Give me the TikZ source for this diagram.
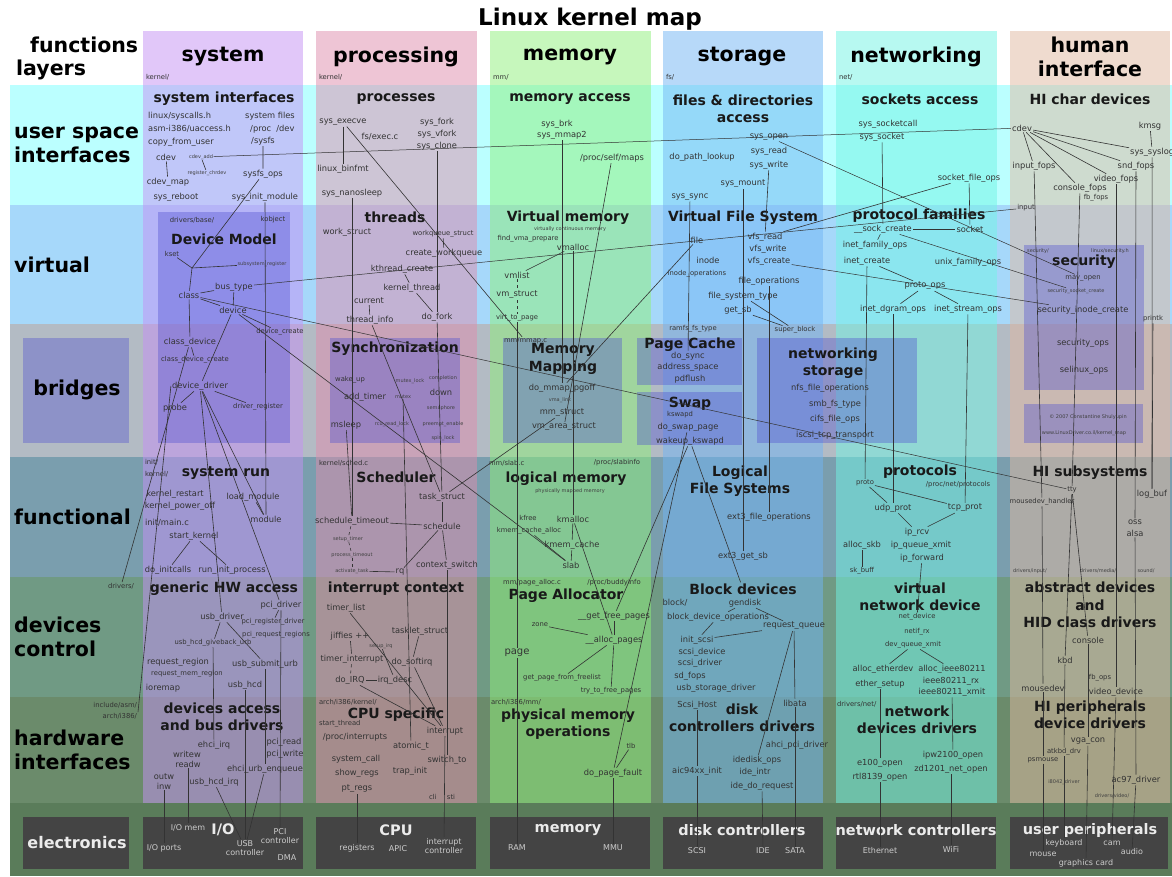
\documentclass[tikz,border=0pt]{standalone}
\usepackage{fontspec}
\setmainfont{DejaVu Sans}
\definecolor{rowUS}{HTML}{BBFFFF}
\definecolor{rowVI}{HTML}{A6D8FA}
\definecolor{rowBR}{HTML}{B3BBC4}
\definecolor{rowFU}{HTML}{7A9EAE}
\definecolor{rowDC}{HTML}{709A84}
\definecolor{rowHW}{HTML}{6B8B6B}
\definecolor{rowEL}{HTML}{5A7C5A}
\definecolor{colSY}{HTML}{C591F5}
\definecolor{colPR}{HTML}{DF8DAD}
\definecolor{colME}{HTML}{8FF07A}
\definecolor{colST}{HTML}{71B5F5}
\definecolor{colNE}{HTML}{71F5E5}
\definecolor{colHU}{HTML}{E1B9A1}
\definecolor{boxc}{HTML}{5050D0}
\definecolor{elbox}{HTML}{444444}
\begin{document}
\begin{tikzpicture}[x=1pt,y=-1pt,
 ttl/.style={font=\bfseries\fontsize{23}{26}\selectfont},
 hd/.style={font=\bfseries\fontsize{20.5}{24}\selectfont, align=center, inner sep=1pt},
 hdl/.style={hd, align=left, anchor=west},
 sec/.style={font=\bfseries\fontsize{14}{17.5}\selectfont, align=center, inner sep=1pt, text=black!90},
 fnc/.style={font=\fontsize{8.3}{9}\selectfont, inner sep=1pt, text=black!80},
 sm/.style={font=\fontsize{6.8}{7.5}\selectfont, inner sep=0.8pt, text=black!80},
 tn/.style={font=\fontsize{5}{6}\selectfont, inner sep=0.5pt, text=black!75},
 elh/.style={font=\bfseries\fontsize{14.5}{16}\selectfont, text=white!92!black, inner sep=1pt},
 elt/.style={font=\fontsize{8}{9}\selectfont, text=white!80!black, align=center, inner sep=1pt},
 ln/.style={draw=black!80, line width=0.6pt},
 dl/.style={ln, dashed},
 subbox/.style={fill=boxc, fill opacity=0.38},
 ebox/.style={fill=elbox},
 colov/.style={fill opacity=0.5}]
\useasboundingbox (0,0) rectangle (1172,876);
\fill[white] (0,0) rectangle (1172,876);
% ---------- rows
\fill[rowUS] (10,85) rectangle (1172,205);
\fill[rowVI] (10,205) rectangle (1172,324);
\fill[rowBR] (10,324) rectangle (1172,457);
\fill[rowFU] (10,457) rectangle (1172,577);
\fill[rowDC] (10,577) rectangle (1172,697);
\fill[rowHW] (10,697) rectangle (1172,803);
\fill[rowEL] (10,803) rectangle (1172,876);
% ---------- columns
\fill[colSY,colov] (143,31) rectangle (303,803);
\fill[colPR,colov] (316,31) rectangle (477,803);
\fill[colME,colov] (490,31) rectangle (651,803);
\fill[colST,colov] (663,31) rectangle (823,803);
\fill[colNE,colov] (836,31) rectangle (997,803);
\fill[colHU,colov] (1010,31) rectangle (1170,803);
% ---------- sub boxes
\fill[subbox] (158,212) rectangle (290,443);
\fill[subbox] (23,338) rectangle (129,443);
\fill[subbox] (330,338) rectangle (460,443);
\fill[subbox] (503,338) rectangle (622,443);
\fill[subbox] (637,338) rectangle (742,385);
\fill[subbox] (637,392) rectangle (742,445);
\fill[subbox] (757,338) rectangle (917,443);
\fill[subbox] (1024,245) rectangle (1144,390);
\fill[subbox] (1024,404) rectangle (1143,443);
% ---------- electronics boxes
\fill[ebox] (23,817) rectangle (129,869);
\fill[ebox] (143,817) rectangle (303,869);
\fill[ebox] (316,817) rectangle (476,869);
\fill[ebox] (490,817) rectangle (650,869);
\fill[ebox] (663,817) rectangle (823,869);
\fill[ebox] (836,817) rectangle (996,869);
\fill[ebox] (1010,817) rectangle (1168,869);

% ---------- titles and labels
\node[ttl] (title) at (590,19) {Linux kernel map};
\node[hd,anchor=west] (lfun) at (29,45) {functions};
\node[hd,anchor=west] (llay) at (15,70) {layers};
\node[hdl] (lusi) at (13,145) {user space\\interfaces};
\node[hdl] (lvir) at (13,265) {virtual};
\node[hd] (lbri) at (77,390) {bridges};
\node[hdl] (lfnc) at (13,517) {functional};
\node[hdl] (ldev) at (13,637) {devices\\control};
\node[hdl] (lhw) at (13,750) {hardware\\interfaces};
\node[elh,font=\bfseries\fontsize{16}{18}\selectfont] (lel) at (77,843) {electronics};

\node[hd] (hsys) at (223,57) {system};
\node[hd] (hpro) at (396,57) {processing};
\node[hd] (hmem) at (570,57) {memory};
\node[hd] (hsto) at (742,57) {storage};
\node[hd] (hnet) at (916,57) {networking};
\node[hd] (hhum) at (1090,57) {human\\interface};
\node[sm,anchor=west] (dsys) at (145,77) {kernel/};
\node[sm,anchor=west] (dpro) at (318,77) {kernel/};
\node[sm,anchor=west] (dmem) at (492,77) {mm/};
\node[sm,anchor=west] (dsto) at (665,77) {fs/};
\node[sm,anchor=west] (dnet) at (838,77) {net/};

% ================= SYSTEM
\node[sec] (ssi) at (224,99) {system interfaces};
\node[fnc,anchor=west] (sysh) at (147,116) {linux/syscalls.h};
\node[fnc,anchor=west] (sysfiles) at (244,116) {system files};
\node[fnc,anchor=west] (uacc) at (147,129) {asm-i386/uaccess.h};
\node[fnc,anchor=west] (procdev) at (249,129) {/proc~~/dev};
\node[fnc,anchor=west] (cfu) at (147,142) {copy\_from\_user};
\node[fnc,anchor=west] (sysfs) at (250,141) {/sysfs};
\node[fnc] (cdevA) at (166,157) {cdev};
\node[tn] (cdevadd) at (201,157) {cdev\_add};
\node[tn] (regchr) at (207,173) {register\_chrdev};
\node[fnc] (sysfsops) at (263,174) {sysfs\_ops};
\node[fnc] (cdevmap) at (168,182) {cdev\_map};
\node[fnc] (sysreboot) at (176,197) {sys\_reboot};
\node[fnc] (sysinitmod) at (265,197) {sys\_init\_module};
\node[sm] (drvbase) at (192,220) {drivers/base/};
\node[sm] (kobject) at (273,220) {kobject};
\node[sec] (devmodel) at (224,239) {Device Model};
\node[sm] (kset) at (172,254) {kset};
\coordinate (ksetj) at (192,268);
\node[tn] (subreg) at (262,264) {subsystem\_register};
\node[fnc] (bustype) at (234,287) {bus\_type};
\node[fnc] (class) at (189,295) {class};
\node[fnc] (device) at (233,310) {device};
\node[sm] (devcreate) at (280,332) {device\_create};
\node[fnc] (classdev) at (190,342) {class\_device};
\node[sm] (cdcreate) at (195,360) {class\_device\_create};
\node[fnc] (devdriver) at (200,386) {device\_driver};
\node[fnc] (probe) at (175,408) {probe};
\node[sm] (drvreg) at (258,407) {driver\_register};

\node[sm,anchor=west] (sinit) at (144,462) {init/};
\node[sm,anchor=west] (skern) at (144,474) {kernel/};
\node[sec] (sysrun) at (226,473) {system run};
\node[fnc] (krestart) at (175,494) {kernel\_restart};
\node[fnc] (kpoweroff) at (180,506) {kernel\_power\_off};
\node[fnc] (loadmod) at (253,497) {load\_module};
\node[fnc] (module) at (266,519) {module};
\node[fnc] (initmain) at (167,523) {init/main.c};
\node[fnc] (startk) at (194,536) {start\_kernel};
\node[fnc] (doinit) at (168,570) {do\_initcalls};
\node[fnc] (runinit) at (232,570) {run\_init\_process};
\node[sm] (ldrivers) at (121,586) {drivers/};
\node[sec] (genhw) at (224,589) {generic HW access};
\node[fnc] (pcidrv) at (281,605) {pci\_driver};
\node[fnc] (usbdrv) at (222,617) {usb\_driver};
\node[sm] (pcireg) at (273,622) {pci\_register\_driver};
\node[sm] (pcireq) at (276,635) {pci\_request\_regions};
\node[sm] (giveback) at (213,643) {usb\_hcd\_giveback\_urb};
\node[fnc] (reqreg) at (178,662) {request\_region};
\node[sm] (reqmem) at (187,674) {request\_mem\_region};
\node[fnc] (submiturb) at (265,664) {usb\_submit\_urb};
\node[fnc] (usbhcd) at (245,685) {usb\_hcd};
\node[fnc] (ioremap) at (163,688) {ioremap};
\node[sm,anchor=east] (linc) at (138,705) {include/asm/};
\node[sm,anchor=east] (larch) at (138,716) {arch/i386/};
\node[sec] (devacc) at (222,717) {devices access\\and bus drivers};
\node[fnc] (ehciirq) at (214,745) {ehci\_irq};
\node[fnc] (pciread) at (284,742) {pci\_read};
\node[fnc] (pciwrite) at (285,754) {pci\_write};
\node[fnc] (writew) at (187,754) {writew};
\node[fnc] (readw) at (188,764) {readw};
\node[fnc] (enqueue) at (265,769) {ehci\_urb\_enqueue};
\node[fnc] (outw) at (164,777) {outw};
\node[fnc] (inw) at (164,786) {inw};
\node[fnc] (hcdirq) at (214,782) {usb\_hcd\_irq};
\node[elt] (iomem) at (188,828) {I/O mem};
\node[elh] (eio) at (223,830) {I/O};
\node[elt] (pcictl) at (280,836) {PCI\\controller};
\node[elt] (ioports) at (164,848) {I/O ports};
\node[elt] (usbctl) at (245,848) {USB\\controller};
\node[elt] (dma) at (287,858) {DMA};

% ================= PROCESSING
\node[sec] (sproc) at (396,99) {processes};
\node[fnc] (execve) at (343,122) {sys\_execve};
\node[fnc] (fsexec) at (380,137) {fs/exec.c};
\node[fnc] (sysfork) at (437,122) {sys\_fork};
\node[fnc] (sysvfork) at (437,134) {sys\_vfork};
\node[fnc] (sysclone) at (437,146) {sys\_clone};
\node[fnc] (binfmt) at (343,169) {linux\_binfmt};
\node[fnc] (nanosleep) at (352,193) {sys\_nanosleep};
\node[sec] (threads) at (395,217) {threads};
\node[fnc] (workstruct) at (347,232) {work\_struct};
\node[sm] (wqstruct) at (443,234) {workqueue\_struct};
\node[fnc] (createwq) at (444,253) {create\_workqueue};
\node[fnc] (kthread) at (402,269) {kthread\_create};
\node[fnc] (kthreadk) at (412,288) {kernel\_thread};
\node[fnc] (current) at (369,301) {current};
\node[fnc] (threadinfo) at (370,320) {thread\_info};
\node[fnc] (dofork) at (437,317) {do\_fork};
\node[sec] (sync) at (395,349) {Synchronization};
\node[sm] (wakeup0) at (350,380) {wake\_up};
\node[tn] (mutexlock) at (410,381) {mutex\_lock};
\node[tn] (completion) at (443,378) {completion};
\node[fnc] (addtimer) at (365,397) {add\_timer};
\node[tn] (mutex) at (403,397) {mutex};
\node[fnc] (down) at (441,392) {down};
\node[tn] (semaphore) at (441,408) {semaphore};
\node[fnc] (msleep) at (346,425) {msleep};
\node[tn] (rcu) at (392,424) {rcu\_read\_lock};
\node[tn] (preempt) at (443,424) {preempt\_enable};
\node[tn] (spinlock) at (443,438) {spin\_lock};

\node[sm,anchor=west] (schedc) at (318,463) {kernel/sched.c};
\node[sec] (sched) at (396,477) {Scheduler};
\node[fnc] (taskstruct) at (442,497) {task\_struct};
\node[fnc] (schedto) at (352,521) {schedule\_timeout};
\node[fnc] (schedule) at (442,526) {schedule};
\node[tn] (setuptimer) at (348,539) {setup\_timer};
\node[tn] (proctimeout) at (352,555) {process\_timeout};
\node[tn] (acttask) at (352,571) {activate\_task};
\node[fnc] (rq) at (400,572) {rq};
\node[fnc] (ctxsw) at (447,565) {context\_switch};
\node[sec] (intctx) at (396,589) {interrupt context};
\node[fnc] (timerlist) at (346,608) {timer\_list};
\node[fnc] (tasklet) at (420,631) {tasklet\_struct};
\node[fnc] (jiffies) at (350,636) {jiffies ++};
\node[tn] (setupirq) at (381,646) {setup\_irq};
\node[fnc] (timerint) at (352,659) {timer\_interrupt};
\node[fnc] (softirq) at (412,662) {do\_softirq};
\node[fnc] (doirq) at (350,680) {do\_IRQ};
\node[fnc] (irqdesc) at (395,680) {irq\_desc};
\node[sm,anchor=west] (archk) at (318,702) {arch/i386/kernel/};
\node[sec] (cpuspec) at (396,715) {CPU specific};
\node[sm,anchor=west] (startthr) at (318,724) {start\_thread};
\node[fnc] (interrupt) at (445,731) {interrupt};
\node[fnc] (procint) at (355,737) {/proc/interrupts};
\node[fnc] (atomict) at (411,746) {atomic\_t};
\node[fnc] (syscall) at (356,759) {system\_call};
\node[fnc] (switchto) at (447,760) {switch\_to};
\node[fnc] (showregs) at (357,773) {show\_regs};
\node[fnc] (trapinit) at (410,771) {trap\_init};
\node[fnc] (ptregs) at (357,789) {pt\_regs};
\node[sm] (cli) at (433,797) {cli};
\node[sm] (sti) at (451,797) {sti};
\node[elh] (ecpu) at (396,830) {CPU};
\node[elt] (registers) at (357,848) {registers};
\node[elt] (apic) at (398,849) {APIC};
\node[elt] (intctl) at (444,846) {interrupt\\controller};

% ================= MEMORY
\node[sec] (smemacc) at (570,99) {memory access};
\node[fnc] (sysbrk) at (557,124) {sys\_brk};
\node[fnc] (sysmmap) at (562,135) {sys\_mmap2};
\node[fnc] (selfmaps) at (612,158) {/proc/self/maps};
\node[sec] (virtmem) at (568,218) {Virtual memory};
\node[tn] (vcm) at (570,229) {virtually continuous memory};
\node[sm] (findvma) at (528,239) {find\_vma\_prepare};
\node[fnc] (vmalloc) at (573,247) {vmalloc};
\node[fnc] (vmlist) at (517,275) {vmlist};
\node[fnc] (vmstruct) at (517,295) {vm\_struct};
\node[sm] (virttopage) at (517,318) {virt\_to\_page};
\node[sm,anchor=west] (mmapc) at (503,341) {mm/mmap.c};
\node[sec] (memmap) at (563,359) {Memory\\Mapping};
\node[fnc] (mmappgoff) at (562,388) {do\_mmap\_pgoff};
\node[tn] (vmalink) at (560,400) {vma\_link};
\node[fnc] (mmstruct) at (562,413) {mm\_struct};
\node[fnc] (vmarea) at (564,427) {vm\_area\_struct};

\node[sm,anchor=west] (slabc) at (488,463) {mm/slab.c};
\node[sm] (slabinfo) at (617,463) {/proc/slabinfo};
\node[sec] (logmem) at (566,479) {logical memory};
\node[tn] (pmm) at (570,491) {physically mapped memory};
\node[sm] (kfree) at (528,518) {kfree};
\node[fnc] (kmalloc) at (573,519) {kmalloc};
\node[sm] (kmca) at (529,531) {kmem\_cache\_alloc};
\node[fnc] (kmemcache) at (572,545) {kmem\_cache};
\node[fnc] (slab) at (571,565) {slab};
\node[sm] (pagealloc) at (532,583) {mm/page\_alloc.c};
\node[sm] (buddy) at (614,583) {/proc/buddyinfo};
\node[sec] (pgalloc) at (566,596) {Page Allocator};
\node[fnc] (getfree) at (614,616) {\_\_get\_free\_pages};
\node[sm] (zone) at (540,625) {zone};
\node[fnc] (allocpages) at (614,640) {\_\_alloc\_pages};
\node[fnc,font=\fontsize{10}{11}\selectfont] (page) at (517,653) {page};
\node[sm] (freelist) at (562,678) {get\_page\_from\_freelist};
\node[sm] (tryfree) at (611,691) {try\_to\_free\_pages};
\node[sm,anchor=west] (archmm) at (490,702) {arch/i386/mm/};
\node[sec] (physmem) at (568,724) {physical memory\\operations};
\node[sm] (tlb) at (631,746) {tlb};
\node[fnc] (pagefault) at (613,773) {do\_page\_fault};
\node[elh] (emem) at (568,830) {memory};
\node[elt] (ram) at (517,848) {RAM};
\node[elt] (mmu) at (613,848) {MMU};

% ================= STORAGE
\node[sec] (sfiles) at (743,109) {files \& directories\\access};
\node[fnc] (sysopen) at (769,137) {sys\_open};
\node[fnc] (sysread) at (769,151) {sys\_read};
\node[fnc] (pathlookup) at (702,157) {do\_path\_lookup};
\node[fnc] (syswrite) at (769,165) {sys\_write};
\node[fnc] (sysmount) at (743,184) {sys\_mount};
\node[fnc] (syssync) at (690,197) {sys\_sync};
\node[sec] (vfs) at (743,218) {Virtual File System};
\node[fnc] (file) at (697,240) {file};
\node[fnc] (vfsread) at (765,237) {vfs\_read};
\node[fnc] (vfswrite) at (768,249) {vfs\_write};
\node[fnc] (inode) at (708,260) {inode};
\node[fnc] (vfscreate) at (769,261) {vfs\_create};
\node[sm] (inodeops) at (697,274) {inode\_operations};
\node[fnc] (fileops) at (769,281) {file\_operations};
\node[fnc] (fstype) at (743,296) {file\_system\_type};
\node[fnc] (getsb) at (738,310) {get\_sb};
\node[sm] (ramfs) at (693,329) {ramfs\_fs\_type};
\node[sm] (superblock) at (795,330) {super\_block};
\node[sec] (pagecache) at (690,345) {Page Cache};
\node[fnc] (dosync) at (688,356) {do\_sync};
\node[fnc] (addrspace) at (688,367) {address\_space};
\node[fnc] (pdflush) at (690,379) {pdflush};
\node[sec] (swap) at (690,404) {Swap};
\node[sm] (kswapd) at (680,415) {kswapd};
\node[fnc] (doswap) at (688,427) {do\_swap\_page};
\node[fnc] (wakeup) at (690,441) {wakeup\_kswapd};
\node[sec] (netstor) at (833,363) {networking\\storage};
\node[fnc] (nfsops) at (830,388) {nfs\_file\_operations};
\node[fnc] (smbfs) at (835,404) {smb\_fs\_type};
\node[fnc] (cifs) at (835,419) {cifs\_file\_ops};
\node[fnc] (iscsi) at (835,435) {iscsi\_tcp\_transport};

\node[sec] (logfs) at (740,481) {Logical\\File Systems};
\node[fnc] (ext3fo) at (769,517) {ext3\_file\_operations};
\node[fnc] (ext3sb) at (743,556) {ext3\_get\_sb};
\node[sec] (blockdev) at (743,589) {Block devices};
\node[fnc] (blockdir) at (675,603) {block/};
\node[fnc] (gendisk) at (745,603) {gendisk};
\node[fnc] (bdops) at (718,617) {block\_device\_operations};
\node[fnc] (reqq) at (794,626) {request\_queue};
\node[fnc] (initscsi) at (697,640) {init\_scsi};
\node[fnc] (scsidev) at (702,652) {scsi\_device};
\node[fnc] (scsidrv) at (700,663) {scsi\_driver};
\node[fnc] (sdfops) at (690,676) {sd\_fops};
\node[fnc] (usbstor) at (716,688) {usb\_storage\_driver};
\node[fnc] (scsihost) at (697,705) {Scsi\_Host};
\node[fnc] (libata) at (795,703) {libata};
\node[sec] (diskdrv) at (742,718) {disk\\controllers drivers};
\node[fnc] (ahci) at (797,745) {ahci\_pci\_driver};
\node[fnc] (idedisk) at (757,760) {idedisk\_ops};
\node[fnc] (aic) at (697,771) {aic94xx\_init};
\node[fnc] (ideintr) at (755,772) {ide\_intr};
\node[fnc] (iderequest) at (762,786) {ide\_do\_request};
\node[elh] (edisk) at (742,830) {disk controllers};
\node[elt] (scsi) at (697,851) {SCSI};
\node[elt] (ide) at (763,851) {IDE};
\node[elt] (sata) at (795,851) {SATA};

% ================= NETWORKING
\node[sec] (ssock) at (920,99) {sockets access};
\node[fnc] (socketcall) at (888,124) {sys\_socketcall};
\node[fnc] (syssocket) at (882,137) {sys\_socket};
\node[fnc] (sockfops) at (969,178) {socket\_file\_ops};
\node[sec] (protofam) at (919,216) {protocol families};
\node[fnc] (sockcreate) at (883,229) {\_\_sock\_create};
\node[fnc] (socket) at (970,229) {socket};
\node[fnc] (inetfam) at (875,245) {inet\_family\_ops};
\node[fnc] (inetcreate) at (867,261) {inet\_create};
\node[fnc] (unixfam) at (968,262) {unix\_family\_ops};
\node[fnc] (protoops) at (925,286) {proto\_ops};
\node[fnc] (dgram) at (893,309) {inet\_dgram\_ops};
\node[fnc] (stream) at (968,309) {inet\_stream\_ops};

\node[sec] (protocols) at (920,472) {protocols};
\node[sm] (proto) at (865,483) {proto};
\node[sm] (procproto) at (958,485) {/proc/net/protocols};
\node[fnc] (udp) at (893,508) {udp\_prot};
\node[fnc] (tcp) at (965,508) {tcp\_prot};
\node[fnc] (iprcv) at (917,532) {ip\_rcv};
\node[fnc] (allocskb) at (862,545) {alloc\_skb};
\node[fnc] (ipqx) at (921,545) {ip\_queue\_xmit};
\node[fnc] (ipfwd) at (922,558) {ip\_forward};
\node[sm] (skbuff) at (862,571) {sk\_buff};
\node[sec] (vnetdev) at (920,597) {virtual\\network device};
\node[sm] (netdev) at (917,617) {net\_device};
\node[sm] (netifrx) at (917,632) {netif\_rx};
\node[sm] (devqx) at (913,645) {dev\_queue\_xmit};
\node[fnc] (allocether) at (883,669) {alloc\_etherdev};
\node[fnc] (allocieee) at (952,669) {alloc\_ieee80211};
\node[fnc] (ethersetup) at (880,684) {ether\_setup};
\node[fnc] (ieeerx) at (951,681) {ieee80211\_rx};
\node[fnc] (ieeexmit) at (952,692) {ieee80211\_xmit};
\node[sm,anchor=west] (drvnet) at (836,704) {drivers/net/};
\node[sec] (netdrv) at (917,720) {network\\devices drivers};
\node[fnc] (ipw) at (953,755) {ipw2100\_open};
\node[fnc] (e100) at (880,763) {e100\_open};
\node[fnc] (zd) at (951,769) {zd1201\_net\_open};
\node[fnc] (rtl) at (880,777) {rtl8139\_open};
\node[elh] (enet) at (916,830) {network controllers};
\node[elt] (eth) at (880,851) {Ethernet};
\node[elt] (wifi) at (951,849) {WiFi};

% ================= HUMAN INTERFACE
\node[sec] (hichar) at (1090,99) {HI char devices};
\node[fnc] (cdevB) at (1022,128) {cdev};
\node[fnc] (kmsg) at (1150,126) {kmsg};
\node[fnc,anchor=west] (syslog) at (1129,152) {sys\_syslog};
\node[fnc] (inputfops) at (1034,166) {input\_fops};
\node[fnc] (sndfops) at (1136,166) {snd\_fops};
\node[fnc] (videofops) at (1116,179) {video\_fops};
\node[fnc] (consolefops) at (1080,188) {console\_fops};
\node[sm] (fbfops) at (1096,198) {fb\_fops};
\node[sm] (input) at (1026,208) {input};
\node[tn] (secdir) at (1038,251) {security/};
\node[tn] (sech) at (1110,251) {linux/security.h};
\node[sec] (security) at (1084,262) {security};
\node[sm] (mayopen) at (1083,278) {may\_open};
\node[tn] (secsock) at (1076,291) {security\_socket\_create};
\node[fnc] (secinode) at (1083,310) {security\_inode\_create};
\node[sm] (printk) at (1153,319) {printk};
\node[fnc] (secops) at (1083,343) {security\_ops};
\node[fnc] (selinux) at (1084,370) {selinux\_ops};
\node[tn] (copyr) at (1088,417) {© 2007 Constantine Shulyupin};
\node[tn] (url) at (1084,433) {www.LinuxDriver.co.il/kernel\_map};

\node[sec] (hisub) at (1090,473) {HI subsystems};
\node[sm] (tty) at (1072,490) {tty};
\node[fnc] (logbuf) at (1152,494) {log\_buf};
\node[sm] (mdhandler) at (1042,502) {mousedev\_handler};
\node[fnc] (oss) at (1135,522) {oss};
\node[fnc] (alsa) at (1135,533) {alsa};
\node[tn] (drvinput) at (1030,571) {drivers/input/};
\node[tn] (drvmedia) at (1098,571) {drivers/media/};
\node[tn] (drvsound) at (1146,571) {sound/};
\node[sec] (abstract) at (1090,605) {abstract devices\\and\\HID class drivers};
\node[fnc] (console) at (1088,640) {console};
\node[fnc] (kbd) at (1065,660) {kbd};
\node[sm] (fbops) at (1100,678) {fb\_ops};
\node[fnc] (mousedev) at (1043,688) {mousedev};
\node[fnc] (videodev) at (1116,692) {video\_device};
\node[sec] (hiperiph) at (1090,715) {HI peripherals\\device drivers};
\node[fnc] (vgacon) at (1088,741) {vga\_con};
\node[sm] (atkbd) at (1064,752) {atkbd\_drv};
\node[sm] (psmouse) at (1043,760) {psmouse};
\node[tn] (i8042) at (1064,782) {i8042\_driver};
\node[fnc] (ac97) at (1136,780) {ac97\_driver};
\node[tn] (drvvideo) at (1112,796) {drivers/video/};
\node[elh] (eusr) at (1090,830) {user peripherals};
\node[elt] (keyboard) at (1064,843) {keyboard};
\node[elt] (cam) at (1112,843) {cam};
\node[elt] (mouse) at (1043,854) {mouse};
\node[elt] (audio) at (1132,852) {audio};
\node[elt] (gcard) at (1086,863) {graphics card};

% ================= CONNECTORS
% system
\draw[ln] (cdevA) -- (cdevmap);
\draw[ln] (cdevadd) -- (regchr);
\draw[ln] (sysfs) -- (sysfsops);
\draw[ln] (sysfsops) -- (ksetj);
\draw[ln] (kset) -- (ksetj) -- (subreg);
\draw[ln] (ksetj) -- (class);
\draw[ln] (class) -- (bustype);
\draw[ln] (class) -- (device);
\draw[ln] (bustype) -- (device);
\draw[ln] (class) -- (classdev);
\draw[ln] (classdev) -- (cdcreate);
\draw[ln] (device) -- (devcreate);
\draw[ln] (device) -- (devdriver);
\draw[ln] (devdriver) -- (probe);
\draw[ln] (devdriver) -- (drvreg);
\draw[ln] (devdriver) -- (usbdrv);
\draw[ln] (devdriver) -- (pcidrv);
\draw[ln] (devdriver) -- (module);
\draw[ln] (sysinitmod) -- (module);
\draw[ln] (loadmod) -- (module);
\draw[ln] (startk) -- (doinit);
\draw[ln] (startk) -- (runinit);
\draw[ln] (classdev) -- (ldrivers);
\draw[ln] (devdriver.west) -- (larch.north east);
\draw[ln] (usbdrv) -- (giveback);
\draw[ln] (usbdrv) -- (submiturb);
\draw[ln] (pcidrv) -- (pcireg);
\draw[ln] (giveback) -- (ehciirq);
\draw[ln] (submiturb) -- (enqueue);
\draw[ln] (usbhcd) -- (usbctl);
\draw[ln] (pcidrv) -- (pcictl);
\draw[ln] (hcdirq) -- (usbctl);
\draw[ln] (enqueue) -- (usbctl);
\draw[ln] (readw) -- (iomem);
\draw[ln] (inw) -- (ioports);
% processing
\draw[ln] (execve) -- (binfmt);
\draw[ln] (execve) -- (mmapc);
\draw[ln] (sysclone) -- (dofork);
\draw[ln] (dofork) -- (taskstruct);
\draw[ln] (kthread) -- (kthreadk);
\draw[ln] (kthreadk) -- (dofork);
\draw[ln] (current) -- (threadinfo);
\draw[ln] (createwq) -- (wqstruct);
\draw[ln] (nanosleep) -- (schedto);
\draw[ln] (msleep) -- (schedto);
\draw[ln] (mutex) -- (atomict);
\draw[ln] (threadinfo) -- (taskstruct);
\draw[ln] (taskstruct) -- (schedule);
\draw[ln] (schedule) -- (rq);
\draw[ln] (schedule) -- (ctxsw);
\draw[ln] (schedto) -- (schedule);
\draw[dl] (schedto) -- (setuptimer);
\draw[dl] (setuptimer) -- (proctimeout);
\draw[dl] (proctimeout) -- (acttask);
\draw[ln] (acttask) -- (rq);
\draw[ln] (ctxsw) -- (switchto);
\draw[ln] (timerlist) -- (interrupt);
\draw[ln] (tasklet) -- (softirq);
\draw[ln] (jiffies) -- (timerint);
\draw[dl] (timerint) -- (doirq);
\draw[ln] (doirq) -- (irqdesc);
\draw[ln] (doirq) -- (interrupt);
\draw[ln] (softirq) -- (interrupt);
\draw[ln] (irqdesc) -- (setupirq);
\draw[ln] (interrupt) -- (intctl);
\draw[ln] (ptregs) -- (registers);
\draw[ln] (taskstruct) -- (mmstruct);
% memory
\draw[ln] (sysmmap) -- (mmappgoff);
\draw[ln] (selfmaps) -- (vmarea);
\draw[ln] (vmalloc) -- (vmlist);
\draw[dl] (vmlist) -- (vmstruct);
\draw[dl] (vmstruct) -- (virttopage);
\draw[ln] (virttopage) -- (page);
\draw[ln] (page) -- (ram);
\draw[ln] (vmalloc) -- (kmalloc);
\draw[ln] (kmalloc) -- (kmemcache);
\draw[ln] (kmca) -- (slab);
\draw[ln] (kmemcache) -- (slab);
\draw[ln] (kmalloc) -- (allocpages);
\draw[ln] (zone) -- (allocpages);
\draw[ln] (freelist) -- (allocpages);
\draw[ln] (getfree) -- (allocpages);
\draw[ln] (allocpages) -- (tryfree);
\draw[ln] (tlb) -- (pagefault);
\draw[ln] (pagefault) -- (mmu);
\draw[ln] (pagefault) -- (doswap);
\draw[ln] (file) -- (mmappgoff);
\draw[ln] (device) -- (slab);
% storage
\draw[ln] (syswrite) -- (vfsread);
\draw[ln] (sysmount) -- (ext3sb);
\draw[ln] (syssync) -- (dosync);
\draw[ln] (fileops) -- (ext3fo);
\draw[ln] (getsb) -- (superblock);
\draw[ln] (fstype) -- (superblock);
\draw[ln] (wakeup) -- (blockdev);
\draw[ln] (wakeup) -- (getfree);
\draw[ln] (gendisk) -- (bdops);
\draw[ln] (gendisk) -- (reqq);
\draw[ln] (reqq) -- (initscsi);
\draw[ln] (bdops) -- (initscsi);
\draw[ln] (reqq) -- (libata);
\draw[ln] (libata) -- (sata);
\draw[ln] (reqq) -- (idedisk);
\draw[ln] (scsihost) -- (aic);
\draw[ln] (aic) -- (scsi);
\draw[ln] (iderequest) -- (ide);
% networking
\draw[ln] (sockfops) -- (socket);
\draw[ln] (sockfops) -- (vfsread);
\draw[ln] (syssocket) -- (sockcreate);
\draw[ln] (sockcreate) -- (socket);
\draw[ln] (sockcreate) -- (inetfam);
\draw[ln] (inetcreate) -- (protoops);
\draw[ln] (protoops) -- (dgram);
\draw[ln] (protoops) -- (stream);
\draw[ln] (inetcreate) -- (proto);
\draw[ln] (dgram) -- (udp);
\draw[ln] (stream) -- (tcp);
\draw[ln] (proto) -- (udp);
\draw[ln] (proto) -- (tcp);
\draw[ln] (udp) -- (iprcv);
\draw[ln] (tcp) -- (iprcv);
\draw[ln] (allocskb) -- (skbuff);
\draw[ln] (ipfwd) -- (netdev);
\draw[ln] (devqx) -- (allocether);
\draw[ln] (devqx) -- (allocieee);
\draw[ln] (ethersetup) -- (e100);
\draw[ln] (rtl) -- (eth);
\draw[ln] (ieeexmit) -- (ipw);
\draw[ln] (zd) -- (wifi);
% human interface
\draw[ln] (cdevB) -- (inputfops);
\draw[ln] (cdevB) -- (consolefops);
\draw[ln] (cdevB) -- (videofops);
\draw[ln] (cdevB) -- (sndfops);
\draw[ln] (cdevB) -- (syslog);
\draw[ln] (kmsg) -- (syslog);
\draw[ln] (inputfops) -- (mdhandler);
\draw[ln] (consolefops) -- (tty);
\draw[ln] (videofops) -- (videodev);
\draw[ln] (sndfops) -- (oss);
\draw[ln] (syslog) -- (logbuf);
\draw[ln] (printk) -- (logbuf);
\draw[ln] (mdhandler) -- (mousedev);
\draw[ln] (mousedev) -- (psmouse);
\draw[ln] (psmouse) -- (mouse);
\draw[ln] (tty) -- (kbd);
\draw[ln] (kbd) -- (atkbd);
\draw[ln] (atkbd) -- (keyboard);
\draw[ln] (tty) -- (console);
\draw[ln] (console) -- (vgacon);
\draw[ln] (vgacon) -- (gcard);
\draw[ln] (videodev) -- (cam);
\draw[ln] (alsa) -- (ac97);
\draw[ln] (ac97) -- (audio);
% long cross-column links
\draw[ln,line width=0.5pt] (cdevadd) -- (cdevB);
\draw[ln,line width=0.5pt] (bustype) -- (input);
\draw[ln,line width=0.5pt] (class) -- (tty);
\draw[ln,line width=0.5pt] (sysopen) -- (mayopen);
\draw[ln,line width=0.5pt] (vfscreate) -- (secinode);
\draw[ln,line width=0.5pt] (sockcreate) -- (secsock);
\end{tikzpicture}
\end{document}
